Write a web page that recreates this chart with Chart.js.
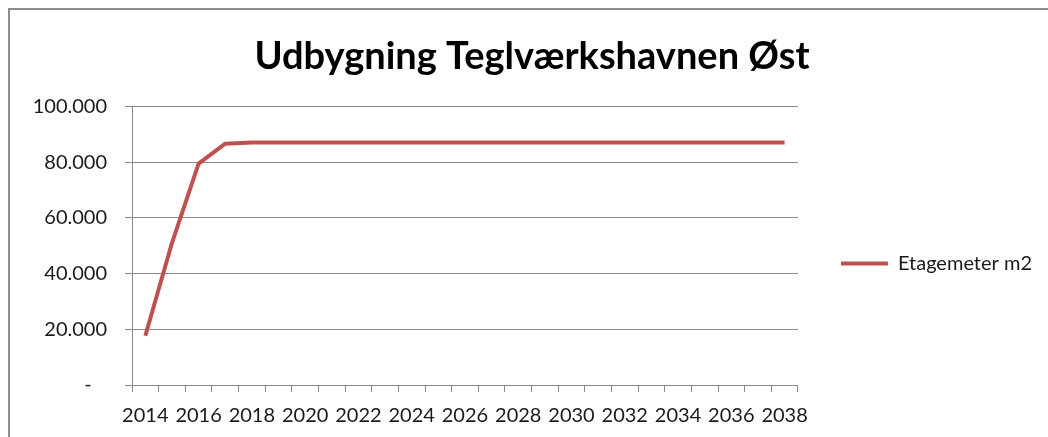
<!DOCTYPE html>
<html>
<head>
<meta charset="utf-8">
<script src="https://cdn.jsdelivr.net/npm/chart.js@4/dist/chart.umd.min.js"></script>
<style>
  html, body { margin: 0; padding: 0; background: #fff; }
  #wrap { position: relative; width: 1048px; height: 437px; overflow: hidden; }
  #frame { position: absolute; left: 8px; top: 8px; width: 1100px; height: 500px;
           border-left: 2px solid #8c8c8c; border-top: 2px solid #8c8c8c; }
  canvas { position: absolute; left: 0; top: 0; }
</style>
</head>
<body>
<div id="wrap">
  <div id="frame"></div>
  <canvas id="udbygningChart" width="1048" height="437"></canvas>
</div>
<script>
'use strict';

// Data
var years = ['2014', '2015', '2016', '2017', '2018', '2019', '2020', '2021', '2022',
  '2023', '2024', '2025', '2026', '2027', '2028', '2029', '2030', '2031', '2032',
  '2033', '2034', '2035', '2036', '2037', '2038'];
var etagemeter = [17700, 51000, 79500, 86700, 87100, 87100, 87100, 87100, 87100,
  87100, 87100, 87100, 87100, 87100, 87100, 87100, 87100, 87100, 87100,
  87100, 87100, 87100, 87100, 87100, 87100];
var seriesName = 'Etagemeter m2';
var chartTitle = 'Udbygning Teglværkshavnen Øst';

var lineColor = '#C0504D';
var gridColor = '#8a8a8a';
var textColor = '#1a1a1a';

// 100000 -> "100.000", 0 -> "-" (Excel accounting style)
function formatTick(v) {
  if (v === 0) return '-   ';
  return v.toString().replace(/\B(?=(\d{3})+(?!\d))/g, '.');
}

var ctx = document.getElementById('udbygningChart');
var udbygningChart = new Chart(ctx, {
  type: 'line',
  data: {
    labels: years,
    datasets: [{
      label: seriesName,
      data: etagemeter,
      borderColor: lineColor,
      backgroundColor: lineColor,
      borderWidth: 4,
      borderCapStyle: 'butt',
      borderJoinStyle: 'round',
      tension: 0,
      pointRadius: 0,
      fill: false
    }]
  },
  options: {
    responsive: false,
    animation: false,
    layout: { padding: { left: 22, right: 6, top: 0, bottom: 0 } },
    plugins: {
      title: {
        display: true,
        text: chartTitle,
        color: '#000',
        font: { family: 'Lato', size: 38, weight: 'bold' },
        padding: { top: 34, bottom: 27 }
      },
      legend: {
        display: true,
        position: 'right',
        labels: {
          boxWidth: 47,
          boxHeight: 4,
          padding: 43,
          color: textColor,
          font: { family: 'Lato', size: 20 },
          generateLabels: function(chart) {
            return [{
              text: seriesName,
              fillStyle: lineColor,
              strokeStyle: lineColor,
              fontColor: textColor,
              lineWidth: 0,
              hidden: false,
              datasetIndex: 0
            }];
          }
        },
        // empty title only pushes the entry down to where it sits in the picture
        title: {
          display: true,
          text: ' ',
          color: textColor,
          font: { family: 'Lato', size: 10 },
          padding: { top: 78, bottom: 0 }
        }
      },
      tooltip: { enabled: false }
    },
    scales: {
      x: {
        offset: true,
        grid: {
          offset: true,
          drawOnChartArea: false,
          drawTicks: true,
          tickLength: 7,
          color: gridColor
        },
        border: { display: true, color: gridColor, width: 1 },
        ticks: {
          autoSkip: false,
          maxRotation: 0,
          minRotation: 0,
          padding: 12,
          color: textColor,
          font: { family: 'Lato', size: 20 },
          callback: function(val, i) {
            return i % 2 === 0 ? this.getLabelForValue(val) : '';
          }
        },
        afterFit: function(scale) { scale.height = 52; }
      },
      y: {
        min: 0,
        max: 100000,
        grid: { color: gridColor, tickLength: 7, drawTicks: true },
        border: { display: true, color: gridColor, width: 1 },
        ticks: {
          stepSize: 20000,
          padding: 18,
          color: textColor,
          font: { family: 'Lato', size: 20 },
          callback: function(v) { return formatTick(v); }
        },
        afterFit: function(scale) { scale.width = 110; }
      }
    }
  }
});
</script>
</body>
</html>
